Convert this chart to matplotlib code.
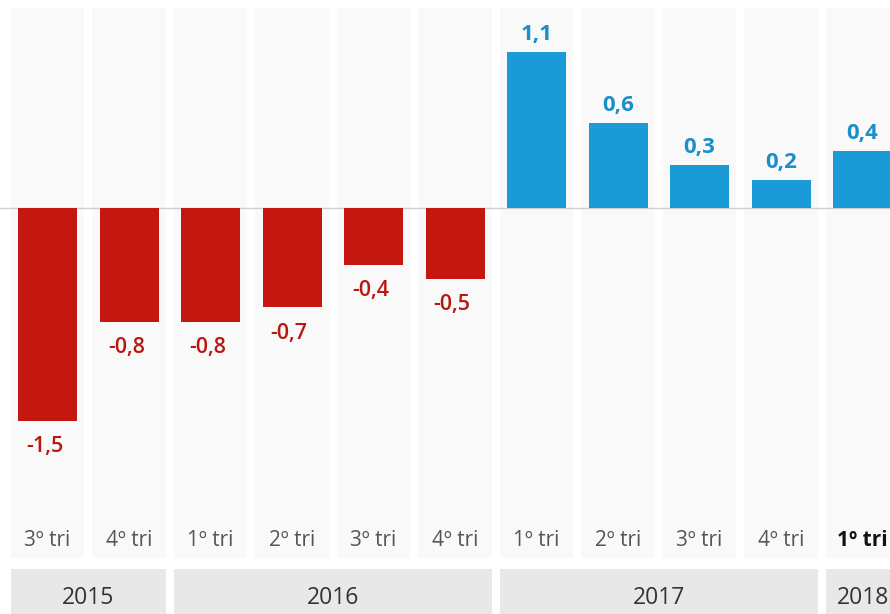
import matplotlib.pyplot as plt
import numpy as np

plt.rcParams['font.family'] = ['Open Sans', 'DejaVu Sans']

# PIB trimestral (%), 3º tri 2015 a 1º tri 2018
quarters = ['3º tri', '4º tri', '1º tri', '2º tri', '3º tri', '4º tri',
            '1º tri', '2º tri', '3º tri', '4º tri', '1º tri']
values = [-1.5, -0.8, -0.8, -0.7, -0.4, -0.5, 1.1, 0.6, 0.3, 0.2, 0.4]
years = ['2015', '2016', '2017', '2018']
year_first = [0, 2, 6, 10]
year_last = [1, 5, 9, 10]

red = '#c3170f'
blue = '#1a9bd7'

fig = plt.figure(figsize=(8.9, 6.14), dpi=100)
fig.set_facecolor('w')
ax = fig.add_axes([0, 0, 1, 1])
ax.set_xlim(-0.583, 10.337)
ax.set_ylim(-2.859, 1.465)
ax.axis('off')

x = np.arange(len(values))

# fundo claro de cada coluna
ax.bar(x, 1.409 + 2.465, bottom=-2.465, width=0.9, color='#f9f9f9', zorder=0)

# linha do zero
ax.axhline(0, color='#d0d0d0', lw=1, zorder=1)

colors = [red if v < 0 else blue for v in values]
ax.bar(x, values, width=0.724, color=colors, zorder=2)

for xi, v in zip(x, values):
    label = f'{v:.1f}'.replace('.', ',')
    if v < 0:
        ax.annotate(label, (xi, v), xytext=(-2, -11), textcoords='offset points',
                    ha='center', va='top', fontsize=15.5, color='#b8170f',
                    fontweight='semibold')
    else:
        ax.annotate(label, (xi, v), xytext=(0, 5), textcoords='offset points',
                    ha='center', va='bottom', fontsize=16, color='#1a8fca',
                    fontweight='bold')

# rótulos dos trimestres
for xi, q in zip(x, quarters):
    last = xi == len(quarters) - 1
    ax.text(xi, -2.338, q, ha='center', va='center', fontsize=15,
            color='#111111' if last else '#555555',
            fontweight='bold' if last else 'normal')

# faixas dos anos
for yr, a, b in zip(years, year_first, year_last):
    ax.bar((a + b) / 2, 1.0, bottom=-3.54, width=(b - a) + 0.9,
           color='#e8e8e8', zorder=0)
    ax.text((a + b) / 2, -2.745, yr, ha='center', va='center',
            fontsize=16.5, color='#333333')

plt.savefig('out.png', dpi=100)
